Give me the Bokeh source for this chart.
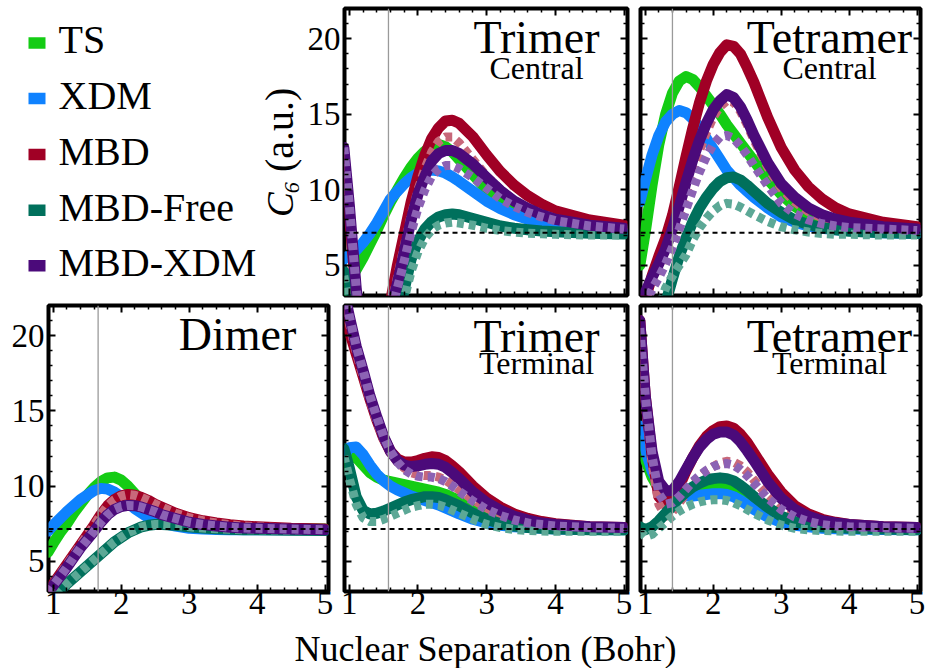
import math
from bokeh.plotting import figure
from bokeh.layouts import column, row
from bokeh.models import Range1d, LinearAxis, FixedTicker, Span
from bokeh.core.properties import value
from bokeh.embed import file_html
from bokeh.resources import INLINE

FONT = "Liberation Serif"

# ---------------- data ----------------
X = [0.92, 1.0, 1.1, 1.2, 1.3, 1.4, 1.5, 1.6, 1.7, 1.8, 1.9, 2.0, 2.1, 2.2,
     2.3, 2.4, 2.5, 2.6, 2.8, 3.0, 3.2, 3.4, 3.6, 3.8, 4.0, 4.5, 5.0]

METHODS = ["TS", "XDM", "MBD", "MBD-Free", "MBD-XDM"]
C6_LIMIT = 7.15

# Dimer
dim_ts = [5.6, 6.2, 6.9, 7.5, 8.2, 8.8, 9.4, 9.9, 10.3, 10.55, 10.6, 10.4, 10.0, 9.5, 9.0, 8.6, 8.2, 8.0, 7.65, 7.45, 7.35, 7.28, 7.24, 7.2, 7.2, 7.17, 7.15]
dim_xdm = [7.0, 7.4, 7.85, 8.3, 8.7, 9.1, 9.4, 9.7, 9.85, 9.8, 9.6, 9.3, 8.9, 8.5, 8.2, 7.9, 7.7, 7.55, 7.35, 7.2, 7.15, 7.12, 7.1, 7.1, 7.1, 7.1, 7.1]
dim_mbd = [2.9, 3.5, 4.15, 4.8, 5.45, 6.1, 6.75, 7.4, 8.1, 8.7, 9.1, 9.35, 9.45, 9.4, 9.25, 9.05, 8.8, 8.6, 8.2, 7.9, 7.7, 7.55, 7.43, 7.35, 7.3, 7.2, 7.15]
dim_free = [2.2, 2.6, 3.05, 3.5, 3.9, 4.3, 4.7, 5.1, 5.5, 5.9, 6.3, 6.6, 6.9, 7.1, 7.3, 7.4, 7.45, 7.45, 7.4, 7.3, 7.22, 7.17, 7.13, 7.1, 7.1, 7.07, 7.05]
dim_mbdxdm = [2.9, 3.4, 4.0, 4.6, 5.25, 5.9, 6.45, 7.0, 7.6, 8.1, 8.45, 8.65, 8.72, 8.7, 8.6, 8.45, 8.3, 8.1, 7.85, 7.6, 7.45, 7.35, 7.27, 7.22, 7.2, 7.15, 7.1]
dim_mbd_d = dim_mbd
dim_free_d = dim_free
dim_mbdxdm_d = dim_mbdxdm

# Trimer, central atom
tc_ts = [3.3, 4.0, 4.7, 5.5, 6.4, 7.3, 8.3, 9.2, 10.0, 10.8, 11.5, 12.1, 12.55, 12.9, 13.0, 12.85, 12.5, 12.0, 11.0, 10.0, 9.3, 8.75, 8.35, 8.05, 7.85, 7.5, 7.35]
tc_xdm = [5.4, 5.7, 6.0, 6.5, 7.1, 7.8, 8.6, 9.4, 9.9, 10.4, 10.8, 11.1, 11.25, 11.3, 11.25, 11.1, 10.85, 10.55, 9.9, 9.25, 8.75, 8.35, 8.05, 7.8, 7.65, 7.35, 7.2]
tc_mbd = [12.3, 8.5, 3.0, -1.5, -5.0, -5.0, -2.0, 2.6, 5.0, 7.1, 9.2, 10.9, 12.3, 13.4, 14.1, 14.55, 14.6, 14.4, 13.5, 12.3, 11.2, 10.3, 9.6, 9.05, 8.6, 8.0, 7.65]
tc_free = [4.6, 2.5, -1.0, -5.0, -5.0, -5.0, -5.0, -2.0, 1.0, 3.4, 5.4, 6.6, 7.4, 7.9, 8.2, 8.35, 8.4, 8.35, 8.1, 7.85, 7.6, 7.45, 7.35, 7.27, 7.22, 7.12, 7.07]
tc_mbdxdm = [12.8, 9.0, 3.5, -1.0, -5.0, -5.0, -1.0, 2.0, 3.8, 5.9, 8.0, 9.7, 10.9, 11.9, 12.4, 12.6, 12.6, 12.4, 11.7, 10.8, 9.95, 9.25, 8.75, 8.35, 8.05, 7.65, 7.45]
tc_mbd_d = [12.5, 8.8, 3.2, -1.5, -5.0, -5.0, -1.5, 2.3, 4.2, 6.3, 8.3, 10.0, 11.4, 12.5, 13.2, 13.5, 13.5, 13.1, 12.0, 10.9, 10.0, 9.3, 8.8, 8.4, 8.1, 7.6, 7.4]
tc_free_d = [4.3, 2.2, -1.0, -5.0, -5.0, -5.0, -5.0, -2.0, 0.8, 2.8, 4.6, 5.9, 6.8, 7.35, 7.65, 7.8, 7.85, 7.8, 7.65, 7.45, 7.3, 7.2, 7.12, 7.08, 7.05, 7.0, 7.0]
tc_mbdxdm_d = [12.8, 9.0, 3.5, -1.0, -5.0, -5.0, -1.5, 1.8, 3.5, 5.3, 7.2, 8.8, 10.0, 10.9, 11.4, 11.6, 11.6, 11.4, 10.8, 10.1, 9.4, 8.9, 8.5, 8.2, 7.95, 7.6, 7.4]

# Tetramer, central atom
tetc_ts = [5.0, 7.2, 10.3, 13.0, 15.0, 16.4, 17.2, 17.5, 17.3, 16.8, 16.2, 15.6, 15.0, 14.3, 13.7, 13.1, 12.5, 11.9, 10.7, 9.7, 8.9, 8.35, 8.0, 7.75, 7.6, 7.35, 7.2]
tetc_xdm = [9.2, 10.6, 12.3, 13.6, 14.5, 15.0, 15.25, 15.1, 14.7, 14.1, 13.4, 12.7, 12.0, 11.3, 10.8, 10.3, 9.9, 9.5, 8.8, 8.2, 7.85, 7.6, 7.45, 7.35, 7.3, 7.15, 7.1]
tetc_mbd = [1.5, 2.8, 4.3, 5.6, 6.8, 8.3, 10.2, 12.2, 14.1, 15.8, 17.2, 18.3, 19.1, 19.6, 19.5, 19.0, 18.1, 17.1, 14.8, 12.8, 11.3, 10.2, 9.4, 8.8, 8.4, 7.85, 7.55]
tetc_free = [-2.0, -1.0, 0.0, 1.0, 2.5, 4.1, 5.6, 6.8, 7.9, 8.8, 9.5, 10.1, 10.55, 10.8, 10.85, 10.65, 10.3, 9.9, 9.1, 8.5, 8.0, 7.7, 7.5, 7.35, 7.25, 7.15, 7.1]
tetc_mbdxdm = [2.0, 3.2, 4.2, 5.1, 6.1, 7.4, 8.9, 10.5, 12.0, 13.3, 14.4, 15.3, 15.9, 16.3, 16.1, 15.5, 14.6, 13.6, 11.8, 10.4, 9.5, 8.8, 8.35, 8.05, 7.85, 7.55, 7.4]
tetc_mbd_d = [1.5, 2.7, 3.8, 4.7, 5.6, 6.8, 8.2, 9.7, 11.2, 12.6, 13.8, 14.8, 15.5, 15.9, 15.8, 15.2, 14.3, 13.3, 11.5, 10.1, 9.2, 8.55, 8.15, 7.9, 7.7, 7.45, 7.35]
tetc_free_d = [-2.0, -1.0, 0.0, 2.2, 3.5, 4.3, 5.0, 5.7, 6.7, 7.5, 8.1, 8.6, 8.95, 9.1, 9.05, 8.85, 8.6, 8.35, 7.9, 7.55, 7.35, 7.2, 7.1, 7.05, 7.05, 7.0, 7.0]
tetc_mbdxdm_d = [1.5, 2.5, 3.4, 4.2, 5.1, 6.2, 7.4, 8.7, 10.0, 11.2, 12.2, 13.0, 13.5, 13.6, 13.4, 12.9, 12.3, 11.6, 10.3, 9.1, 8.4, 8.0, 7.75, 7.6, 7.5, 7.4, 7.3]

# Trimer, terminal atom
ttm_ts = [11.3, 11.9, 11.9, 11.4, 10.9, 10.6, 10.4, 10.3, 10.2, 10.1, 10.0, 9.9, 9.8, 9.7, 9.6, 9.45, 9.25, 9.0, 8.5, 8.05, 7.75, 7.5, 7.4, 7.3, 7.25, 7.15, 7.1]
ttm_xdm = [12.0, 12.55, 12.6, 12.1, 11.4, 10.8, 10.35, 10.0, 9.75, 9.55, 9.35, 9.2, 9.05, 8.9, 8.75, 8.55, 8.35, 8.15, 7.8, 7.55, 7.4, 7.3, 7.25, 7.2, 7.15, 7.12, 7.1]
ttm_mbd = [21.5, 20.3, 18.8, 17.3, 15.8, 14.4, 13.2, 12.3, 11.8, 11.6, 11.6, 11.7, 11.85, 11.95, 11.9, 11.7, 11.35, 10.95, 10.0, 9.2, 8.6, 8.15, 7.85, 7.65, 7.5, 7.3, 7.25]
ttm_free = [12.5, 11.2, 9.3, 8.4, 8.15, 8.2, 8.35, 8.55, 8.75, 8.95, 9.1, 9.2, 9.3, 9.3, 9.25, 9.1, 8.9, 8.7, 8.2, 7.8, 7.5, 7.35, 7.25, 7.2, 7.15, 7.1, 7.1]
ttm_mbdxdm = [23.0, 21.3, 19.3, 17.7, 16.0, 14.6, 13.3, 12.3, 11.7, 11.4, 11.3, 11.35, 11.45, 11.5, 11.45, 11.25, 10.9, 10.5, 9.6, 8.9, 8.4, 8.0, 7.75, 7.55, 7.45, 7.3, 7.25]
ttm_mbd_d = [22.5, 20.8, 18.9, 17.3, 15.7, 14.3, 13.1, 12.2, 11.6, 11.2, 10.9, 10.75, 10.7, 10.7, 10.6, 10.4, 10.1, 9.75, 9.1, 8.55, 8.1, 7.8, 7.6, 7.45, 7.4, 7.25, 7.2]
ttm_free_d = [12.0, 10.5, 8.8, 7.9, 7.65, 7.65, 7.8, 8.0, 8.2, 8.4, 8.6, 8.7, 8.8, 8.8, 8.75, 8.6, 8.4, 8.2, 7.8, 7.45, 7.25, 7.12, 7.05, 7.02, 7.0, 7.0, 7.0]
ttm_mbdxdm_d = [23.0, 21.3, 19.3, 17.7, 16.0, 14.6, 13.3, 12.3, 11.6, 11.1, 10.8, 10.65, 10.6, 10.6, 10.5, 10.3, 10.0, 9.65, 9.0, 8.45, 8.05, 7.75, 7.55, 7.45, 7.35, 7.25, 7.2]

# Tetramer, terminal atom
ttt_ts = [13.0, 11.8, 10.6, 9.8, 9.4, 9.3, 9.35, 9.5, 9.65, 9.8, 9.9, 10.0, 10.05, 10.0, 9.85, 9.6, 9.3, 8.95, 8.3, 7.85, 7.55, 7.4, 7.3, 7.25, 7.2, 7.15, 7.12]
ttt_xdm = [14.0, 12.5, 11.0, 10.1, 9.7, 9.5, 9.4, 9.35, 9.35, 9.4, 9.45, 9.5, 9.5, 9.45, 9.3, 9.05, 8.75, 8.45, 7.95, 7.6, 7.4, 7.3, 7.2, 7.17, 7.15, 7.12, 7.1]
ttt_mbd = [21.0, 16.0, 12.0, 9.3, 8.8, 9.2, 10.0, 11.0, 11.9, 12.7, 13.3, 13.7, 13.95, 14.0, 13.85, 13.45, 12.9, 12.2, 10.8, 9.6, 8.7, 8.15, 7.8, 7.6, 7.45, 7.3, 7.25]
ttt_free = [7.3, 7.1, 7.3, 7.7, 8.2, 8.7, 9.2, 9.6, 9.95, 10.2, 10.4, 10.5, 10.55, 10.5, 10.35, 10.05, 9.7, 9.3, 8.6, 8.0, 7.65, 7.45, 7.3, 7.25, 7.2, 7.15, 7.1]
ttt_mbdxdm = [21.0, 16.0, 12.3, 10.3, 9.7, 9.7, 10.3, 11.1, 11.9, 12.6, 13.1, 13.45, 13.6, 13.6, 13.4, 12.95, 12.35, 11.7, 10.3, 9.2, 8.45, 8.0, 7.7, 7.55, 7.45, 7.3, 7.25]
ttt_mbd_d = [20.0, 15.5, 11.5, 8.8, 8.0, 8.3, 8.9, 9.5, 10.1, 10.6, 11.0, 11.3, 11.55, 11.65, 11.6, 11.35, 10.95, 10.4, 9.4, 8.55, 8.0, 7.7, 7.5, 7.4, 7.35, 7.25, 7.2]
ttt_free_d = [7.0, 6.65, 6.8, 7.2, 7.6, 8.0, 8.35, 8.6, 8.8, 8.95, 9.05, 9.1, 9.1, 9.05, 8.9, 8.7, 8.45, 8.2, 7.75, 7.4, 7.2, 7.1, 7.05, 7.02, 7.0, 7.0, 7.0]
ttt_mbdxdm_d = [20.5, 16.0, 12.0, 9.5, 8.8, 8.9, 9.3, 9.8, 10.3, 10.7, 11.05, 11.3, 11.45, 11.5, 11.4, 11.1, 10.7, 10.2, 9.2, 8.45, 7.95, 7.65, 7.45, 7.35, 7.3, 7.25, 7.2]

# equilibrium separations (vertical guide lines)
EQ_DIMER = 1.66
EQ_TRIMER = 1.57
EQ_TETRAMER = 1.40

X_TICKS = [1, 2, 3, 4, 5]
X_MINOR = [1.2, 1.4, 1.6, 1.8, 2.2, 2.4, 2.6, 2.8, 3.2, 3.4, 3.6, 3.8, 4.2, 4.4, 4.6, 4.8]
Y_TICKS = [5, 10, 15, 20]
Y_MINOR = [4, 6, 7, 8, 9, 11, 12, 13, 14, 16, 17, 18, 19, 21]

# ---------------- styling ----------------
XMIN, XMAX = 0.93, 5.05
YMIN, YMAX = 3.0, 22.0

SOLID = {"TS": "#14CC14", "XDM": "#0F82FF", "MBD": "#A00025",
         "MBD-Free": "#00705C", "MBD-XDM": "#4B0A7A"}
DOTTED = {"MBD": "#C8687A", "MBD-Free": "#5CA896", "MBD-XDM": "#8C62B4"}


def add_axis(p, side, ticks, minor, show, font_px="33px", standoff=5):
    ax = LinearAxis(ticker=FixedTicker(ticks=ticks, minor_ticks=minor))
    ax.axis_line_color = None
    ax.major_tick_in = 7
    ax.major_tick_out = 0
    ax.minor_tick_in = 4
    ax.minor_tick_out = 0
    ax.major_tick_line_color = "black"
    ax.minor_tick_line_color = "black"
    ax.major_tick_line_width = 2
    ax.minor_tick_line_width = 1.5
    if show:
        ax.major_label_text_font = FONT
        ax.major_label_text_font_size = font_px
        ax.major_label_text_color = "black"
        ax.major_label_standoff = standoff
    else:
        ax.major_label_overrides = {t: "" for t in ticks}
        ax.major_label_text_font_size = "1px"
        ax.major_label_standoff = 0
    p.add_layout(ax, side)
    return ax


def make_panel(width, height, bl, br, bt, bb, series, eq, title, sub,
               ylabels, xlabels, big_c=29, sub_c=59.5):
    fw = width - bl - br
    fh = height - bt - bb
    p = figure(width=width, height=height,
               x_range=Range1d(XMIN, XMAX), y_range=Range1d(YMIN, YMAX),
               output_backend="svg", toolbar_location=None, title_location=None,
               x_axis_location=None, y_axis_location=None,
               min_border_left=bl, min_border_right=br,
               min_border_top=bt, min_border_bottom=bb)
    p.xgrid.grid_line_color = None
    p.ygrid.grid_line_color = None
    p.outline_line_color = "black"
    p.outline_line_width = 4
    p.background_fill_color = "white"
    p.border_fill_color = "white"

    ts, xdm, mbd, free, mx, mbd_d, free_d, mx_d = series

    def solid(ys, name):
        p.line(X, ys, line_color=SOLID[name], line_width=11,
               line_join="round", line_cap="round")

    def dotted(ys, name):
        p.line(X, ys, line_color=DOTTED[name], line_width=9,
               line_dash="7 5", line_join="round", line_cap="butt")

    solid(ts, "TS")
    solid(xdm, "XDM")
    solid(mbd, "MBD")
    dotted(mbd_d, "MBD")
    solid(free, "MBD-Free")
    dotted(free_d, "MBD-Free")
    solid(mx, "MBD-XDM")
    dotted(mx_d, "MBD-XDM")

    p.add_layout(Span(location=C6_LIMIT, dimension="width", line_color="black",
                      line_width=2, line_dash="5 4"))
    p.add_layout(Span(location=eq, dimension="height", line_color="#9a9a9a",
                      line_width=1.3))

    ppx = fw / (XMAX - XMIN)
    ppy = fh / (YMAX - YMIN)
    xc = XMAX - 91 / ppx
    p.text(x=[xc], y=[YMAX - big_c / ppy], text=[title],
           text_font=value(FONT), text_font_size="46px", text_color="black",
           text_align="center", text_baseline="middle")
    if sub:
        p.text(x=[xc], y=[YMAX - sub_c / ppy], text=[sub],
               text_font=value(FONT), text_font_size="32px", text_color="black",
               text_align="center", text_baseline="middle")

    add_axis(p, "left", Y_TICKS, Y_MINOR, ylabels, standoff=4)
    add_axis(p, "right", Y_TICKS, Y_MINOR, False)
    add_axis(p, "above", X_TICKS, X_MINOR, False)
    add_axis(p, "below", X_TICKS, X_MINOR, xlabels, standoff=0)
    return p


def blank_fig(w, h):
    f = figure(width=w, height=h, x_range=Range1d(0, w), y_range=Range1d(0, h),
               output_backend="svg", toolbar_location=None, title_location=None,
               x_axis_location=None, y_axis_location=None,
               min_border=0, min_border_left=0, min_border_right=0,
               min_border_top=0, min_border_bottom=0)
    f.xgrid.grid_line_color = None
    f.ygrid.grid_line_color = None
    f.outline_line_color = None
    return f


# ---------------- legend + y title panel ----------------
LW, LH = 304, 300
leg = blank_fig(LW, LH)
sw_y = [36, 94, 152.5, 211, 269]
txt_y = [32, 91, 149, 208, 266]
leg.rect(x=[36.5] * 5, y=[LH - v for v in sw_y], width=17, height=12,
         fill_color=[SOLID[m] for m in METHODS], line_color=None)
leg.text(x=[58] * 5, y=[LH - v for v in txt_y], text=METHODS,
         text_font=value(FONT), text_font_size="40px", text_color="black",
         text_align="left", text_baseline="middle")
# y-axis title  C_6 (a.u.)
leg.text(x=[280], y=[LH - 218], text=["C"], angle=math.pi / 2,
         text_font=value(FONT), text_font_size="37px", text_font_style="italic",
         text_color="black", text_align="left", text_baseline="middle")
leg.text(x=[291], y=[LH - 193], text=["6"], angle=math.pi / 2,
         text_font=value(FONT), text_font_size="22px", text_font_style="italic",
         text_color="black", text_align="left", text_baseline="middle")
leg.text(x=[279], y=[LH - 171], text=["(a.u.)"], angle=math.pi / 2,
         text_font=value(FONT), text_font_size="40px",
         text_color="black", text_align="left", text_baseline="middle")

# ---------------- panels ----------------
p_tc = make_panel(328, 300, 40, 5, 8, 5,
                  [tc_ts, tc_xdm, tc_mbd, tc_free, tc_mbdxdm, tc_mbd_d, tc_free_d, tc_mbdxdm_d],
                  EQ_TRIMER, "Trimer", "Central", True, False)
p_tetc = make_panel(293, 300, 8, 5, 8, 5,
                    [tetc_ts, tetc_xdm, tetc_mbd, tetc_free, tetc_mbdxdm, tetc_mbd_d, tetc_free_d, tetc_mbdxdm_d],
                    EQ_TETRAMER, "Tetramer", "Central", False, False)

BOT_H = 328
p_dim = make_panel(336, BOT_H, 48, 8, 5, 37,
                   [dim_ts, dim_xdm, dim_mbd, dim_free, dim_mbdxdm, dim_mbd_d, dim_free_d, dim_mbdxdm_d],
                   EQ_DIMER, "Dimer", None, True, True)
p_ttm = make_panel(296, BOT_H, 8, 5, 5, 37,
                   [ttm_ts, ttm_xdm, ttm_mbd, ttm_free, ttm_mbdxdm, ttm_mbd_d, ttm_free_d, ttm_mbdxdm_d],
                   EQ_TRIMER, "Trimer", "Terminal", False, True, big_c=31, sub_c=57.5)
p_ttt = make_panel(293, BOT_H, 8, 5, 5, 37,
                   [ttt_ts, ttt_xdm, ttt_mbd, ttt_free, ttt_mbdxdm, ttt_mbd_d, ttt_free_d, ttt_mbdxdm_d],
                   EQ_TETRAMER, "Tetramer", "Terminal", False, True, big_c=31, sub_c=57.5)

# x-axis title strip
TH = 668 - 300 - BOT_H
xt = blank_fig(925, TH)
xt.text(x=[485], y=[TH / 2], text=["Nuclear Separation (Bohr)"],
        text_font=value(FONT), text_font_size="36px", text_color="black",
        text_align="center", text_baseline="middle")

layout = column(row(leg, p_tc, p_tetc), row(p_dim, p_ttm, p_ttt), xt)

with open("out.html", "w") as f:
    f.write(file_html(layout, INLINE))
